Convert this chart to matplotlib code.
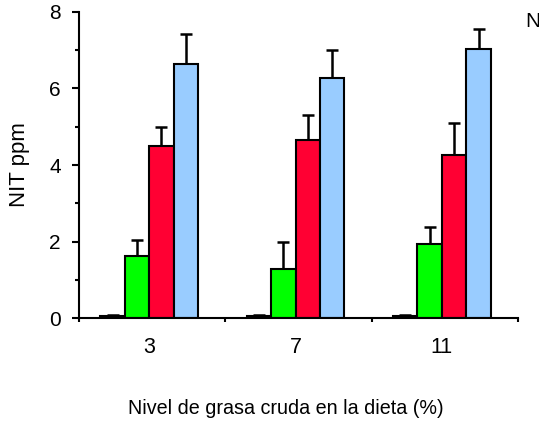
import numpy as np
import matplotlib.pyplot as plt

plt.rcParams['font.family'] = ['Liberation Sans', 'DejaVu Sans']

# Data
levels = ['3', '7', '11']
series_colors = ['#222222', '#00ff00', '#ff0033', '#99ccff']
means = [
    [0.05, 0.05, 0.05],   # dark (near zero)
    [1.63, 1.28, 1.93],   # green
    [4.50, 4.65, 4.25],   # red
    [6.65, 6.27, 7.03],   # blue
]
errs = [
    [0.04, 0.04, 0.04],
    [0.42, 0.72, 0.44],
    [0.50, 0.65, 0.85],
    [0.77, 0.73, 0.53],
]

fig = plt.figure(figsize=(5.39, 4.22), dpi=100)
ax = fig.add_axes([0.1466, 0.2464, 0.8144, 0.7252])

x = np.arange(len(levels))
w = 0.167
for i, (m, e, c) in enumerate(zip(means, errs, series_colors)):
    pos = x + (i - 1.5) * w - 0.02
    ax.bar(pos, m, width=w, color=c, edgecolor='black', linewidth=1.5, zorder=2)
    ax.errorbar(pos, m, yerr=[np.zeros(len(e)), e], fmt='none', ecolor='black',
                elinewidth=1.8, capsize=4, capthick=1.8, zorder=1)

ax.set_xlim(-0.5, 2.5)
ax.set_ylim(0, 8)
ax.set_yticks([0, 2, 4, 6, 8])
ax.set_yticks([1, 3, 5, 7], minor=True)
ax.set_xticks([-0.5, 0.5, 1.5, 2.5])
ax.set_xticklabels([])
for xi, lab in zip(x, levels):
    ax.text(xi - 0.02, -0.5, lab, ha='center', va='top', fontsize=15.5,
            transform=ax.transData)

ax.spines['top'].set_visible(False)
ax.spines['right'].set_visible(False)
ax.spines['left'].set_linewidth(1.5)
ax.spines['bottom'].set_linewidth(1.5)
ax.tick_params(axis='y', which='major', direction='out', length=5, width=1.5,
               labelsize=15, pad=8)
ax.tick_params(axis='y', which='minor', direction='out', length=3, width=1.5)
ax.tick_params(axis='x', which='major', direction='out', length=3, width=1.5)

ax.set_ylabel('NIT ppm', fontsize=16)
ax.yaxis.set_label_coords(-0.112, 0.5)
fig.text(0.53, 0.033, 'Nivel de grasa cruda en la dieta (%)', ha='center',
         va='center', fontsize=14.2)
fig.text(0.974, 0.948, 'N', ha='left', va='center', fontsize=15)

fig.savefig('out.png', dpi=100)
